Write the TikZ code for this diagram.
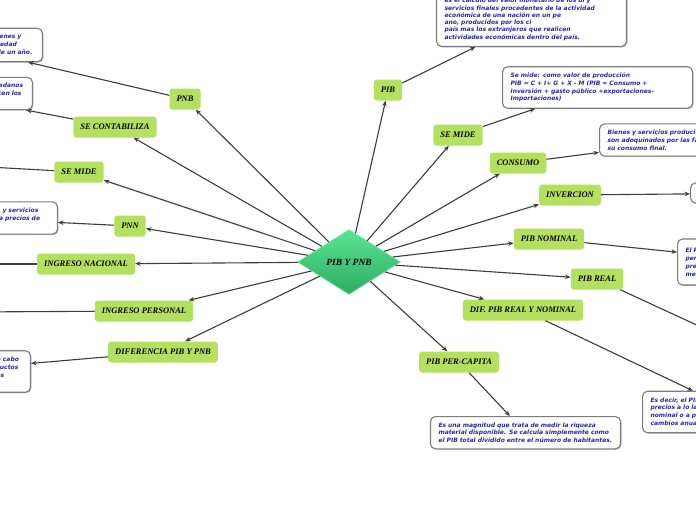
\documentclass[tikz,border=0pt]{standalone}
\usepackage{fontspec}
\setmainfont{Liberation Serif}
\newfontfamily\boxfont{DejaVu Sans}
\usetikzlibrary{shapes.geometric,arrows.meta,shadows}
\definecolor{limefill}{RGB}{180,224,96}
\definecolor{noteblue}{RGB}{40,40,170}
\definecolor{notegray}{RGB}{125,125,125}
\definecolor{linkgray}{RGB}{58,62,60}
\definecolor{dtop}{RGB}{92,228,148}
\definecolor{dbot}{RGB}{44,172,100}
\definecolor{dline}{RGB}{120,235,165}
\tikzset{
  topic/.style={fill=limefill, rounded corners=3pt, minimum height=21pt, inner xsep=7pt, inner ysep=2pt,
    font=\fontsize{8.5}{10}\selectfont\bfseries\itshape},
  notebase/.style={draw=notegray, line width=1.1pt, fill=white, rounded corners=5pt, align=left,
    inner ysep=6pt, text=noteblue, font=\boxfont\fontsize{6}{7.8}\selectfont\bfseries\itshape,
    drop shadow={shadow xshift=1pt, shadow yshift=-1pt, opacity=0.25, fill=black}},
  noter/.style={notebase, text width=174pt, inner xsep=8pt},
  notel/.style={notebase, inner xsep=5pt},
  link/.style={draw=linkgray, line width=1.1pt, -{Stealth[length=5.5pt,width=4.5pt]}},
  hub/.style={diamond, shape aspect=1.58, minimum width=103pt, minimum height=65pt, inner sep=0pt,
    top color=dtop, bottom color=dbot, draw=dline, line width=0.6pt,
    font=\fontsize{9.5}{11}\selectfont\bfseries\itshape}
}
\begin{document}
\begin{tikzpicture}[x=1pt,y=-1pt]
\clip (0,0) rectangle (696,520);
\fill[white] (0,0) rectangle (696,520);

% hub
\node[hub] (c) at (349,262) {PIB Y PNB};

% left topics
\node[topic] (pnb) at (185,99) {PNB};
\node[topic] (secont) at (115,127) {SE CONTABILIZA};
\node[topic] (semideL) at (79,172) {SE MIDE};
\node[topic] (pnn) at (130,226) {PNN};
\node[topic] (ingnac) at (86,264) {INGRESO NACIONAL};
\node[topic] (ingper) at (144,311) {INGRESO PERSONAL};
\node[topic] (dif) at (163,352) {DIFERENCIA PIB Y PNB};

% right topics
\node[topic] (pib) at (388,90) {PIB};
\node[topic] (semideR) at (458,135) {SE MIDE};
\node[topic] (consumo) at (518,163) {CONSUMO};
\node[topic] (inversion) at (570,195) {INVERCION};
\node[topic] (pibnom) at (549,239) {PIB NOMINAL};
\node[topic] (pibreal) at (597,279) {PIB REAL};
\node[topic] (difreal) at (523,310) {DIF. PIB REAL Y NOMINAL};
\node[topic] (percap) at (459,362) {PIB PER-CAPITA};

% left notes
\node[notel, text width=166pt, anchor=east] (nPNB) at (43,45) {Es el valor de mercado de todos los bienes y\\servicios finales que produce una sociedad\\dentro y fuera del país en el periodo de un año.};
\node[notel, text width=178pt, anchor=east] (nCONT) at (33,93.5) {Se contabiliza todo lo que producen los ciudadanos\\del país, sin importar el lugar en donde ejercen los\\factores.};
\node[notel, text width=170pt, anchor=east] (nPNN) at (58,218) {Es el valor monetario de los bienes y servicios\\finales producidos por una nación a precios de\\mercado.};
\node[notel, text width=176pt, anchor=east] (nDIF) at (31,371.5) {El PIB mide toda la producción que se lleva a cabo\\dentro del territorio, y el PNB, la de los productos\\y servicios generados por factores nacionales\\del país.};
\coordinate (oSEMIDE) at (-30,166);
\coordinate (oINGNAC) at (-30,264);
\coordinate (oINGPER) at (-30,312);

% right notes
\node[noter, anchor=south, font=\boxfont\fontsize{6}{7.3}\selectfont\bfseries\itshape] (nPIB) at (531.5,47) {es el calculo del valor monetario de los bi y\\servicios finales procedentes de la actividad\\económica de una nación en un pe\\ano, producidos por los ci\\país mas los extranjeros que realicen\\actividades económicas dentro del país.};
\node[noter, anchor=west] (nSEMIDE) at (502,87.5) {Se mide: como valor de producción\\PIB = C + I+ G + X - M (PIB = Consumo +\\Inversión + gasto público +exportaciones-\\Importaciones)};
\node[noter, anchor=west] (nCONS) at (599,140) {Bienes y servicios producidos que\\son adoquinados por las familias para\\su consumo final.};
\node[noter, anchor=west, minimum height=20pt] (nINV) at (690,193) {};
\node[noter, anchor=west, minimum height=46pt] (nNOM) at (677,262) {El PIB nominal es el valor de la producción\\periodo a periodo, medido con los\\precios corrientes del\\mercado.};
\coordinate (oREAL) at (740,345);
\node[noter, anchor=west] (nDIFR) at (642,412) {Es decir, el PIB real mide la producción a\\precios a lo largo de un año base, el PIB\\nominal o a precios corrientes incluye los\\cambios anuales de los precios.};
\node[noter, anchor=north] (nCAP) at (525.5,416) {Es una magnitud que trata de medir la riqueza\\material disponible. Se calcula simplemente como\\el PIB total dividido entre el número de habitantes.};

% hub links
\foreach \t in {pnb,secont,semideL,pnn,ingnac,ingper,dif,pib,semideR,consumo,inversion,pibnom,pibreal,difreal,percap}
  \draw[link] (c) -- (\t);

% topic to note links
\draw[link] (pnb) -- (nPNB);
\draw[link] (secont) -- (nCONT);
\draw[link] (semideL) -- (oSEMIDE);
\draw[link] (pnn) -- (nPNN);
\draw[link] (ingnac) -- (oINGNAC);
\draw[link] (ingper) -- (oINGPER);
\draw[link] (dif) -- (nDIF);
\draw[link] (pib) -- (nPIB);
\draw[link] (semideR) -- (nSEMIDE);
\draw[link] (consumo) -- (nCONS);
\draw[link] (inversion) -- (nINV);
\draw[link] (pibnom) -- (nNOM);
\draw[link] (pibreal) -- (oREAL);
\draw[link] (difreal) -- (nDIFR);
\draw[link] (percap) -- (nCAP);
\end{tikzpicture}
\end{document}
